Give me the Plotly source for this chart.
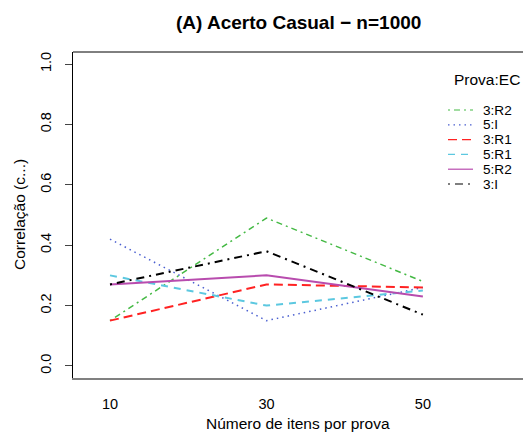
import plotly.graph_objects as go

# ---- data ----
n_itens = [10, 30, 50]
series_names = ["3:R2", "5:I", "3:R1", "5:R1", "5:R2", "3:I"]
v_3R2 = [0.15, 0.49, 0.28]
v_5I = [0.42, 0.15, 0.26]
v_3R1 = [0.15, 0.27, 0.26]
v_5R1 = [0.30, 0.20, 0.25]
v_5R2 = [0.27, 0.30, 0.23]
v_3I = [0.27, 0.38, 0.17]
y_ticks = [0.0, 0.2, 0.4, 0.6, 0.8, 1.0]
y_tick_labels = ["0.0", "0.2", "0.4", "0.6", "0.8", "1.0"]
x_tick_labels = ["10", "30", "50"]

values = [v_3R2, v_5I, v_3R1, v_5R1, v_5R2, v_3I]
styles = [
    dict(color="#44b944", width=1.5, dash="2px,4px,6px,4px"),
    dict(color="#4a5fd0", width=1.5, dash="1.5px,4px"),
    dict(color="#ff2222", width=2, dash="9px,5px"),
    dict(color="#5cc8e0", width=2, dash="7px,6px"),
    dict(color="#b84cae", width=2, dash="solid"),
    dict(color="#000000", width=2, dash="2px,5px,8px,5px"),
]

FONT = "Liberation Sans, Arial, sans-serif"
W, H = 523, 439
L, R, T, B = 73, 0, 52, 61

fig = go.Figure()
for name, vals, st in zip(series_names, values, styles):
    fig.add_trace(go.Scatter(x=n_itens, y=vals, mode="lines", name=name,
                             line=st, showlegend=False))

fig.update_layout(
    width=W, height=H,
    margin=dict(l=L, r=R, t=T, b=B),
    paper_bgcolor="white", plot_bgcolor="white",
    font=dict(family=FONT, color="black", size=14),
    showlegend=False,
    xaxis=dict(range=[5.27, 62.8], tickvals=n_itens, ticktext=x_tick_labels,
               ticks="", showgrid=False, zeroline=False,
               showline=True, linecolor="#808080", linewidth=2,
               tickfont=dict(size=14.5), ticklabelstandoff=12),
    yaxis=dict(range=[-0.04, 1.04], tickvals=y_ticks, ticktext=y_tick_labels,
               ticks="outside", ticklen=7, tickcolor="#444", tickwidth=1,
               showgrid=False, zeroline=False,
               showline=True, linecolor="black", linewidth=1,
               tickangle=-90, tickfont=dict(size=14.5), ticklabelstandoff=8),
)

# top border
fig.add_shape(type="line", xref="paper", yref="paper", x0=0, x1=1, y0=1, y1=1,
              line=dict(color="black", width=1))

def px_x(px):
    return (px - L) / (W - L - R)

def px_y(py):
    return (H - B - py) / (H - T - B)

annots = [
    dict(text="<b>(A) Acerto Casual \u2212 n=1000</b>", x=298, y=22, size=19),
    dict(text="Número de itens por prova", x=298, y=423, size=15.5),
]
for a in annots:
    fig.add_annotation(text=a["text"], xref="paper", yref="paper",
                       x=px_x(a["x"]), y=px_y(a["y"]), showarrow=False,
                       xanchor="center", yanchor="middle",
                       font=dict(size=a["size"], family=FONT))
fig.add_annotation(text="Correlação (c...)", xref="paper", yref="paper",
                   x=px_x(19), y=px_y(215), showarrow=False, textangle=-90,
                   xanchor="center", yanchor="middle", font=dict(size=15.5, family=FONT))

# legend (manual, to match R spacing)
fig.add_annotation(text="Prova:EC", xref="paper", yref="paper",
                   x=px_x(452), y=px_y(80), showarrow=False,
                   xanchor="left", yanchor="middle", font=dict(size=15.5, family=FONT))
leg_y = [110, 124.8, 139.6, 154.4, 169.2, 184]
for name, st, ly in zip(series_names, styles, leg_y):
    fig.add_shape(type="line", xref="paper", yref="paper",
                  x0=px_x(448), x1=px_x(473), y0=px_y(ly), y1=px_y(ly),
                  line=dict(color=st["color"], width=1.2, dash=st["dash"]))
    fig.add_annotation(text=name, xref="paper", yref="paper",
                       x=px_x(482), y=px_y(ly), showarrow=False,
                       xanchor="left", yanchor="middle", borderpad=0,
                       font=dict(size=13.6, family=FONT))

fig.write_html("out.html")
